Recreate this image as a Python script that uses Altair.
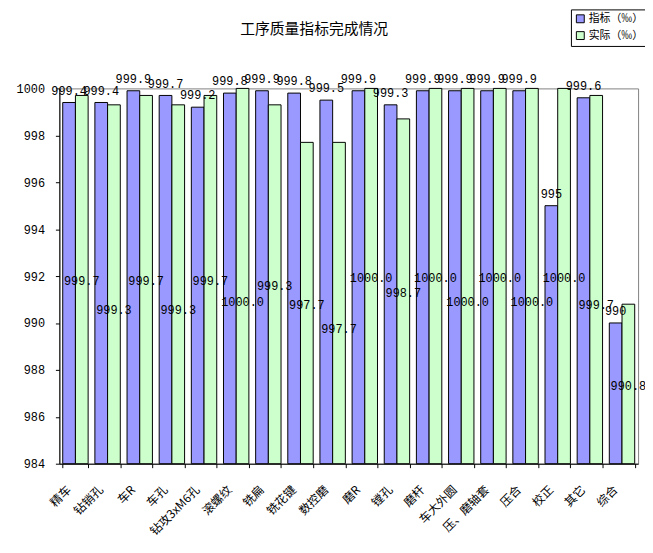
import altair as alt
import pandas as pd

categories = ["精车", "钻销孔", "车R", "车孔", "钻攻3xM6孔", "滚螺纹", "铣扁", "铣花键", "数控磨",
              "磨R", "镗孔", "磨杆", "车大外圆", "压、磨轴套", "压合", "校正", "其它", "综合"]
target = [999.4, 999.4, 999.9, 999.7, 999.2, 999.8, 999.9, 999.8, 999.5,
          999.9, 999.3, 999.9, 999.9, 999.9, 999.9, 995, 999.6, 990]
actual = [999.7, 999.3, 999.7, 999.3, 999.7, 1000.0, 999.3, 997.7, 997.7,
          1000.0, 998.7, 1000.0, 1000.0, 1000.0, 1000.0, 1000.0, 999.7, 990.8]
series_names = ["指标（‰）", "实际（‰）"]
y_ticks = [984, 986, 988, 990, 992, 994, 996, 998, 1000]
BASE = 984
TOP = 1000

# greedy staggering of the actual-value labels (placed mid-bar) so that
# neighbouring labels at nearly the same height do not collide
stagger = []
prev = None
for a in actual:
    mid = (BASE + a) / 2
    if prev is not None and abs(mid - prev) < 0.55:
        stagger.append(True)
        prev = mid - 1.0
    else:
        stagger.append(False)
        prev = mid

rows = []
for c, t, a, s in zip(categories, target, actual, stagger):
    rows.append({"cat": c, "series": series_names[0], "value": t, "label": f"{t:g}", "stag": False})
    rows.append({"cat": c, "series": series_names[1], "value": a, "label": f"{a:.1f}", "stag": s})
df = pd.DataFrame(rows)

CJK = "Noto Sans CJK SC"
MONO = "Liberation Mono"

x_enc = alt.X(
    "cat:N", sort=categories, title=None,
    scale=alt.Scale(paddingInner=0.21, paddingOuter=0.105),
    axis=alt.Axis(labelAngle=-45, labelAlign="right", labelBaseline="middle",
                  labelFont=CJK, labelFontSize=12, labelColor="black",
                  domainColor="black", tickColor="black", tickBand="extent",
                  tickSize=4, labelPadding=20, labelOffset=-7),
)
xoff = alt.XOffset("series:N", sort=series_names,
                   scale=alt.Scale(paddingInner=0, paddingOuter=0))
y_scale = alt.Scale(domain=[BASE, TOP], nice=False, zero=False)

bars = alt.Chart(df).mark_bar(stroke="black", strokeWidth=1).encode(
    x=x_enc,
    xOffset=xoff,
    y=alt.Y("value:Q", scale=y_scale, title=None,
            axis=alt.Axis(values=y_ticks, labelFont=MONO, labelFontSize=12,
                          labelColor="black", domainColor="black", tickColor="black",
                          tickSize=4, labelPadding=11, grid=False, format="d")),
    y2=alt.datum(BASE),
    color=alt.Color("series:N", sort=series_names,
                    scale=alt.Scale(domain=series_names, range=["#9999FF", "#CCFFCC"]),
                    legend=alt.Legend(title=None, orient="none", legendX=518, legendY=-80,
                                      strokeColor="black", fillColor="white", padding=4,
                                      symbolType="square", symbolSize=64,
                                      symbolStrokeColor="black", symbolStrokeWidth=1,
                                      labelFont=CJK, labelFontSize=11, labelColor="black",
                                      rowPadding=4, labelOffset=3)),
)

top_labels = alt.Chart(df).transform_filter(
    alt.datum.series == series_names[0]
).mark_text(font=MONO, fontSize=12, baseline="alphabetic", dy=-8, color="black").encode(
    x=alt.X("cat:N", sort=categories),
    xOffset=xoff,
    y=alt.Y("value:Q", scale=y_scale),
    text="label:N",
)

def mid_layer(stag, dy):
    return alt.Chart(df).transform_filter(
        (alt.datum.series == series_names[1]) & (alt.datum.stag == stag)
    ).transform_calculate(
        mid=f"({BASE} + datum.value) / 2"
    ).mark_text(font=MONO, fontSize=12, baseline="middle", color="black", dy=dy).encode(
        x=alt.X("cat:N", sort=categories),
        xOffset=xoff,
        y=alt.Y("mid:Q", scale=y_scale),
        text="label:N",
    )

chart = alt.layer(bars, top_labels, mid_layer(False, 2), mid_layer(True, 26)).properties(
    width=586, height=380,
    title=alt.TitleParams("工序质量指标完成情况", font=CJK, fontSize=15, fontWeight="normal",
                          color="black", anchor="middle", dx=-35, offset=-28),
    autosize=alt.AutoSizeParams(type="none"),
    padding={"left": 52, "top": 78, "right": 7, "bottom": 87},
    background="white",
).configure_view(stroke="#808080", strokeWidth=1)

chart.save("out.html", embed_options={"renderer": "svg", "actions": False})
